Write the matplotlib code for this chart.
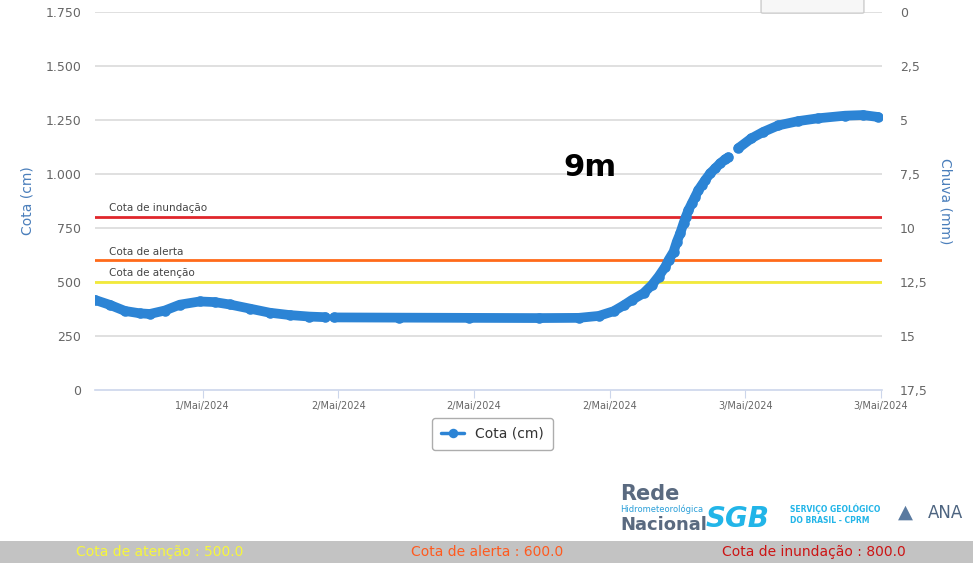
import numpy as np
import matplotlib.pyplot as plt
from matplotlib.patches import FancyBboxPatch, Rectangle

# hours relative to 1/Mai/2024 tick; NaN marks the gaps in the record
hours = [-9.53, -8.21, -6.88, -5.56, -4.68, -3.35, -2.03, -0.26, 1.06, 2.38,
         4.15, 5.91, 7.68, 9.44, 10.86, np.nan,
         11.65, 17.39, 23.57, 29.74, 33.27, 35.04, 36.36, 37.25,
         37.98, 39.0, 39.74, 40.33, 40.93, 41.22, 41.66, 41.95, 42.25, 42.54,
         42.75, 42.98, 43.27, 43.57, 43.86, 44.16, 44.46, 44.9, 45.34, 45.78,
         46.22, 46.51, np.nan,
         47.4, 48.54, 49.6, 50.93, 52.7, 54.46, 56.84, 58.43, 59.75]
cota = [417, 394, 366, 355, 352, 368, 395, 410, 407, 396,
        377, 358, 347, 340, 337, np.nan,
        336, 335, 334, 333, 334, 343, 365, 392,
        417, 448, 486, 525, 571, 602, 640, 687, 726, 772,
        803, 833, 864, 895, 926, 949, 972, 1003, 1026, 1049,
        1068, 1077, np.nan,
        1120, 1165, 1195, 1225, 1245, 1258, 1270, 1273, 1264]

tick_hours = [0, 12, 24, 36, 48, 60]
tick_labels = ["1/Mai/2024", "2/Mai/2024", "2/Mai/2024", "2/Mai/2024",
               "3/Mai/2024", "3/Mai/2024"]
cota_ticks = [0, 250, 500, 750, 1000, 1250, 1500, 1750]
cota_tick_labels = ["0", "250", "500", "750", "1.000", "1.250", "1.500", "1.750"]
chuva_ticks = [0, 2.5, 5, 7.5, 10, 12.5, 15, 17.5]
chuva_tick_labels = ["0", "2,5", "5", "7,5", "10", "12,5", "15", "17,5"]

limiares = [("Cota de inundação", 800, "#e0262b"),
            ("Cota de alerta", 600, "#ff6a1a"),
            ("Cota de atenção", 500, "#f2ea3a")]
rodape = [("Cota de atenção : 500.0", "#f7f73a"),
          ("Cota de alerta : 600.0", "#ff5a1f"),
          ("Cota de inundação : 800.0", "#cc1414")]

blue = "#2c84d5"
W, H = 973, 570
fig = plt.figure(figsize=(W / 100, H / 100), dpi=100)
ax = fig.add_axes([95 / W, 1 - 390 / H, (882 - 95) / W, (390 - 12) / H])

for v in cota_ticks[1:]:
    ax.axhline(v, color="#dadada", lw=1.2, zorder=1)

for name, val, col in limiares:
    ax.axhline(val, color=col, lw=2, zorder=2)
    ax.text(-8.3, val + 18, name, fontsize=7.5, color="#444444", va="bottom",
            ha="left", zorder=3)

ax.plot(hours, cota, color=blue, lw=7, marker="o", ms=7.6, mew=0,
        solid_capstyle="round", solid_joinstyle="round", zorder=4,
        label="Cota (cm)")

ax.set_xlim(-9.53, 60.1)
ax.set_ylim(0, 1750)
ax.set_xticks(tick_hours)
ax.set_xticklabels(tick_labels, fontsize=7, color="#666666")
ax.set_yticks(cota_ticks)
ax.set_yticklabels(cota_tick_labels, fontsize=9, color="#666666")
ax.tick_params(axis="y", length=0, pad=10)
ax.tick_params(axis="x", length=6, color="#ccd6eb", pad=2)
for s in ["top", "right", "left"]:
    ax.spines[s].set_visible(False)
ax.spines["bottom"].set_color("#ccd6eb")
ax.spines["bottom"].set_linewidth(1.2)
ax.set_ylabel("Cota (cm)", color="#4a7ebb", fontsize=10, labelpad=8)

ax2 = ax.twinx()
ax2.set_ylim(17.5, 0)
ax2.set_yticks(chuva_ticks)
ax2.set_yticklabels(chuva_tick_labels, fontsize=9, color="#666666")
ax2.tick_params(axis="y", length=0, pad=13)
for s in ax2.spines.values():
    s.set_visible(False)
ax2.set_ylabel("Chuva (mm)", color="#4a7ebb", fontsize=10, rotation=270,
               labelpad=18)

fig.text(590 / W, 1 - 168 / H, "9m", fontsize=22, fontweight="bold",
         ha="center", va="center")

leg = ax.legend(loc="upper center", bbox_to_anchor=(0.505, -0.055), fontsize=10,
                frameon=True, fancybox=True, edgecolor="#999999",
                handlelength=1.6, markerscale=0.9, borderpad=0.65)
for line in leg.get_lines():
    line.set_linewidth(2.5)
leg.get_texts()[0].set_color("#333333")

# partial button at top right
fig.patches.append(FancyBboxPatch((763 / W, 1 - 12 / H), 99 / W, 20 / H,
                                  boxstyle="round,pad=0.002", fc="#f7f7f7",
                                  ec="#cccccc", lw=1, transform=fig.transFigure))

# logos as text
fig.text(620 / W, 1 - 500 / H, "Rede", fontsize=15, color="#5a6a80",
         fontweight="bold")
fig.text(620 / W, 1 - 512 / H, "Hidrometeorológica", fontsize=6,
         color="#2a9fd8")
fig.text(620 / W, 1 - 530 / H, "Nacional", fontsize=13, color="#5a6a80",
         fontweight="bold")
fig.text(706 / W, 1 - 527 / H, "SGB", fontsize=20, color="#22b5e8",
         fontweight="black", style="italic")
fig.text(790 / W, 1 - 512 / H, "SERVIÇO GEOLÓGICO", fontsize=5.5,
         color="#22b5e8", fontweight="bold")
fig.text(790 / W, 1 - 523 / H, "DO BRASIL - CPRM", fontsize=5.5,
         color="#22b5e8", fontweight="bold")
fig.text(928 / W, 1 - 518 / H, "ANA", fontsize=12, color="#4d6480")
fig.text(898 / W, 1 - 518 / H, "▲", fontsize=14, color="#5a7aa0")

fig.patches.append(Rectangle((0, 1 - 563 / H), 1, 22 / H, fc="#c3c3c3",
                             ec="none", transform=fig.transFigure))
for (txt, col), xc in zip(rodape, [160, 487, 814]):
    fig.text(xc / W, 1 - 552 / H, txt, fontsize=10, color=col, ha="center",
             va="center")

fig.savefig("out.png", dpi=100)
